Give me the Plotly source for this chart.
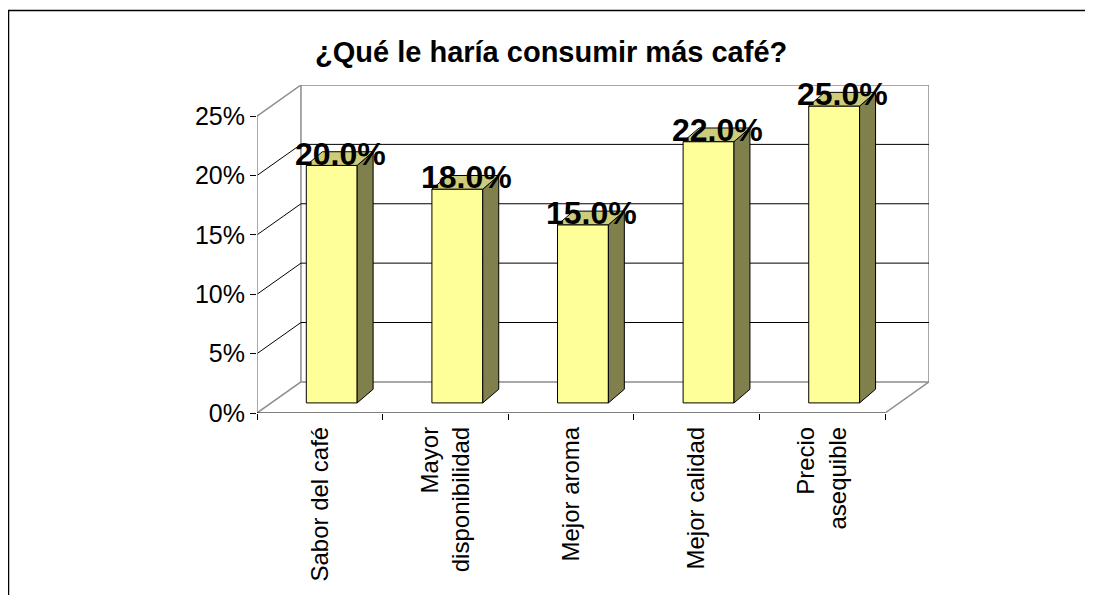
import plotly.graph_objects as go

# datos del gráfico
categorias = ["Sabor del café", "Mayor<br>disponibilidad", "Mejor aroma", "Mejor calidad", "Precio<br>asequible"]
valores = [20.0, 18.0, 15.0, 22.0, 25.0]
y_ticks = [0, 5, 10, 15, 20, 25]
y_tick_labels = ["0%", "5%", "10%", "15%", "20%", "25%"]
titulo = "¿Qué le haría consumir más café?"

FONT = "Arial, Liberation Sans, sans-serif"
W, H = 1093, 595
OFF = 8  # margen por defecto del <body> en la página

# geometría del falso 3D (en unidades de ejes)
PROF_X, PROF_Y = 0.35, 2.62      # profundidad de la pared de fondo
BAR_DX, BAR_DY = 0.095, 0.85     # desplazamiento del plano frontal de las barras
LADO_X, LADO_Y = 0.127, 1.15     # profundidad de cada barra
ANCHO = 0.405
n = len(valores)
ymax = y_ticks[-1]

fig = go.Figure()

# caras frontales de las barras
xs = [i + 0.5 + BAR_DX for i in range(n)]
fig.add_trace(go.Bar(
    x=xs, y=valores, base=BAR_DY, width=ANCHO,
    marker=dict(color="#FFFF99", line=dict(color="black", width=1)),
    hoverinfo="skip", showlegend=False,
))

shapes = []
gris = "#8C8C8C"

# pared de fondo y pared lateral
shapes.append(dict(type="rect", xref="x", yref="y", x0=PROF_X, x1=n + PROF_X, y0=PROF_Y, y1=ymax + PROF_Y,
                   line=dict(color=gris, width=1.5), layer="below"))
for v in y_ticks:
    interior = 0 < v < ymax
    shapes.append(dict(type="line", xref="x", yref="y", x0=0, y0=v, x1=PROF_X, y1=v + PROF_Y,
                       line=dict(color="black" if interior else gris, width=1 if interior else 1.5), layer="below"))
    if interior:
        shapes.append(dict(type="line", xref="x", yref="y", x0=PROF_X, y0=v + PROF_Y, x1=n + PROF_X, y1=v + PROF_Y,
                           line=dict(color="black", width=1), layer="below"))
# eje vertical frontal
shapes.append(dict(type="line", xref="x", yref="y", x0=0, y0=0, x1=0, y1=ymax,
                   line=dict(color=gris, width=1.5), layer="below"))
# borde derecho del suelo
shapes.append(dict(type="line", xref="x", yref="y", x0=n, y0=0, x1=n + PROF_X, y1=PROF_Y,
                   line=dict(color=gris, width=1.5), layer="below"))
# borde frontal del suelo
shapes.append(dict(type="line", xref="x", yref="y", x0=0, y0=0, x1=n, y1=0,
                   line=dict(color="black", width=1.2), layer="below"))

# caras laterales y superiores de las barras
for x, v in zip(xs, valores):
    xl, xr = x - ANCHO / 2, x + ANCHO / 2
    b, t = BAR_DY, BAR_DY + v
    lado = f"M{xr},{b} L{xr + LADO_X},{b + LADO_Y} L{xr + LADO_X},{t + LADO_Y} L{xr},{t} Z"
    tapa = f"M{xl},{t} L{xr},{t} L{xr + LADO_X},{t + LADO_Y} L{xl + LADO_X},{t + LADO_Y} Z"
    shapes.append(dict(type="path", xref="x", yref="y", path=lado, fillcolor="#80804D",
                       line=dict(color="black", width=1)))
    shapes.append(dict(type="path", xref="x", yref="y", path=tapa, fillcolor="#CCCC7A",
                       line=dict(color="black", width=1)))

# marco exterior
shapes.append(dict(type="rect", xref="paper", yref="paper", x0=0.5 / W, x1=1.02, y0=-0.02, y1=1 - 2.5 / H,
                   line=dict(color="black", width=1.5)))

annotations = []
for x, v in zip(xs, valores):
    annotations.append(dict(x=x + 0.07, y=BAR_DY + v + 1.0, xref="x", yref="y", text=f"{v:.1f}%",
                            showarrow=False, yanchor="middle",
                            font=dict(family=FONT, size=32, color="black", weight="bold")))
annotations.append(dict(x=(551 - OFF) / W, y=1 - (52 - OFF) / H, xref="paper", yref="paper", text=titulo,
                        showarrow=False, xanchor="center", yanchor="middle",
                        font=dict(family=FONT, size=29, color="black", weight="bold")))

fig.update_layout(
    width=W, height=H,
    margin=dict(l=0, r=0, t=0, b=0),
    paper_bgcolor="white", plot_bgcolor="white",
    shapes=shapes, annotations=annotations,
    showlegend=False,
    xaxis=dict(domain=[(257 - OFF) / W, (929 - OFF) / W], range=[0, n + PROF_X], showgrid=False, zeroline=False,
               tickvals=[i + 0.5 for i in range(n)], ticktext=categorias, tickangle=-90,
               ticks="", ticklabelstandoff=8, automargin=False,
               tickfont=dict(family=FONT, size=24, color="black"),
               minor=dict(tickvals=list(range(n + 1)), ticks="outside", ticklen=6, tickcolor="black")),
    yaxis=dict(domain=[1 - (413 - OFF) / H, 1 - (85 - OFF) / H], range=[0, ymax + PROF_Y], showgrid=False,
               zeroline=False, tickvals=y_ticks, ticktext=y_tick_labels, ticks="outside", ticklen=6,
               tickcolor="black", automargin=False, tickfont=dict(family=FONT, size=25, color="black")),
)

fig.write_html("out.html")
